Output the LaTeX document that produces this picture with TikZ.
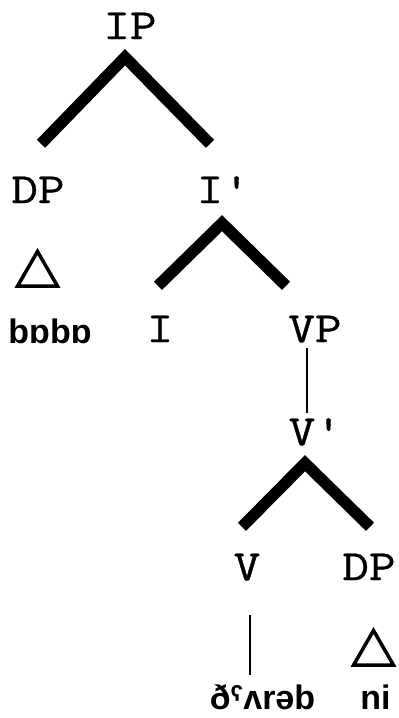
\documentclass[tikz,border=0pt]{standalone}
\usepackage{fontspec}
\newfontfamily\catfont[FakeStretch=1.2,FakeBold=0.8]{Latin Modern Mono}
\newfontfamily\lexfont{Liberation Sans}
\usetikzlibrary{shapes.geometric}

\begin{document}
\begin{tikzpicture}[x=1pt,y=-1pt,
    cat/.style={anchor=base,inner sep=0pt,text height=26pt,text depth=0pt,font=\catfont\fontsize{43}{45}\selectfont},
    lex/.style={anchor=base,inner sep=0pt,text height=24pt,text depth=0pt,font=\lexfont\bfseries\fontsize{34}{36}\selectfont},
    branch/.style={line width=11.5pt,line join=miter},
    link/.style={line width=2.2pt},
    roof/.style={draw,regular polygon,regular polygon sides=3,line width=3.5pt,minimum size=46pt,inner sep=0pt}]
    \useasboundingbox (0,0) rectangle (399,718);
    \node[cat] (ip) at (130,39) {IP};
    \node[cat] (dp1) at (38,203) {DP};
    \node[cat] (ibar) at (210,203) {I\rlap{'}};
    \node[roof] (tri1) at (37.5,274.5) {};
    \node[lex] (bobo) at (50,343) {bɒbɒ};
    \node[cat] (i) at (160,342) {I};
    \node[cat] (vp) at (315,342) {VP};
    \node[cat] (vbar) at (302,445) {V\rlap{'}};
    \node[cat] (v) at (247,580) {V};
    \node[cat] (dp2) at (369,580) {DP};
    \node[roof] (tri2) at (373.5,653.5) {};
    \node[lex] (verb) at (262.5,709) {ðˤʌrəb};
    \node[lex] (ni) at (375.5,709) {ni};
    \draw[branch] ([shift={(3,-33)}]dp1.north) -- ([shift={(-5,18)}]ip.south) -- ([shift={(0,-33)}]ibar.north);
    \draw[branch] ([shift={(-2,-30)}]i.north) -- ([shift={(12,20)}]ibar.south) -- ([shift={(-29,-30)}]vp.north);
    \draw[link] ([shift={(-8,6)}]vp.south) -- ([shift={(5,-6)}]vbar.north);
    \draw[branch] ([shift={(-5,-27)}]v.north) -- ([shift={(3,18)}]vbar.south) -- ([shift={(1,-27)}]dp2.north);
    \draw[link] ([shift={(3,35)}]v.south) -- ([shift={(-12.5,-10)}]verb.north);
\end{tikzpicture}
\end{document}
